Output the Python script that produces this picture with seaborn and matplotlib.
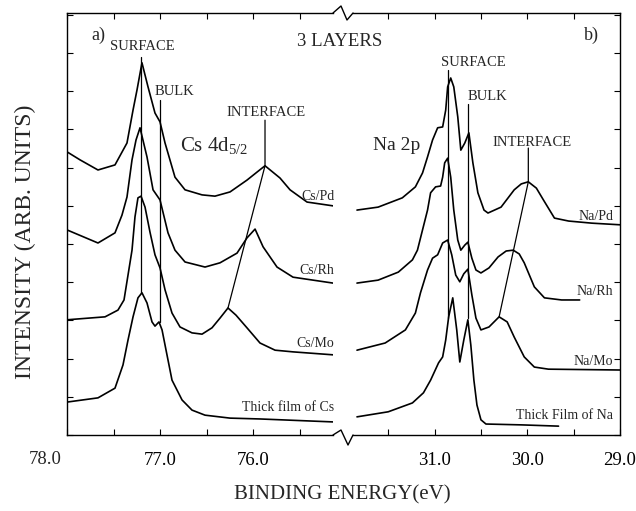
import matplotlib
matplotlib.use("Agg")
import matplotlib.pyplot as plt
import seaborn as sns
import pandas as pd
from matplotlib.ticker import FixedLocator, FuncFormatter, MultipleLocator
from matplotlib.lines import Line2D

# ---------------- data (binding energy in eV, intensity in arb. units) ----------------
cs_pd_energy = [78.0, 77.86, 77.667, 77.484, 77.355, 77.290, 77.247, 77.194, 77.129, 77.054,
                77.0, 76.946, 76.839, 76.731, 76.548, 76.409, 76.247, 76.065, 75.957, 75.871,
                75.710, 75.602, 75.419, 75.14]
cs_pd_int = [67.1, 65.2, 62.8, 64.0, 69.2, 77.0, 81.8, 88.2, 82.5, 76.3,
             74.2, 69.2, 61.1, 58.1, 56.9, 56.6, 57.6, 60.4, 62.3, 63.8,
             60.9, 58.1, 55.2, 54.3]

cs_rh_energy = [78.0, 77.667, 77.484, 77.409, 77.355, 77.301, 77.258, 77.215, 77.140, 77.075,
                77.0, 76.914, 76.839, 76.731, 76.516, 76.355, 76.172, 76.065, 75.978, 75.892,
                75.742, 75.570, 75.14]
cs_rh_int = [48.6, 45.5, 47.9, 52.1, 56.4, 65.2, 69.9, 72.8, 65.9, 58.1,
             55.7, 47.9, 43.8, 41.0, 39.8, 40.8, 43.1, 46.7, 48.8, 44.6,
             39.8, 37.4, 36.0]

cs_mo_energy = [78.0, 77.591, 77.452, 77.387, 77.344, 77.301, 77.269, 77.237, 77.204, 77.161,
                77.108, 77.054, 77.0, 76.946, 76.871, 76.785, 76.656, 76.548, 76.441, 76.355,
                76.269, 76.183, 76.065, 75.925, 75.763, 75.570, 75.14]
cs_mo_int = [27.3, 28.0, 29.6, 32.0, 37.9, 43.8, 51.7, 56.2, 56.6, 54.0,
             48.1, 42.7, 39.6, 34.4, 28.9, 25.6, 24.2, 23.9, 25.4, 27.7,
             30.1, 28.4, 25.4, 21.8, 20.1, 19.7, 19.0]

cs_thick_energy = [78.0, 77.667, 77.484, 77.398, 77.344, 77.290, 77.237, 77.194, 77.140, 77.086,
                   77.054, 77.011, 76.978, 76.935, 76.871, 76.763, 76.656, 76.516, 76.247, 75.925,
                   75.14]
cs_thick_int = [7.8, 8.8, 11.1, 16.6, 22.5, 28.0, 32.5, 33.7, 31.3, 26.8,
                25.8, 26.8, 24.9, 20.1, 13.0, 8.3, 5.9, 4.7, 4.0, 3.8,
                3.1]

na_pd_energy = [31.837, 31.609, 31.348, 31.207, 31.130, 31.076, 31.022, 30.967, 30.913, 30.880,
                30.859, 30.826, 30.793, 30.750, 30.717, 30.674, 30.630, 30.587, 30.533, 30.467,
                30.424, 30.283, 30.141, 30.065, 29.989, 29.902, 29.826, 29.707, 29.554, 29.304,
                28.99]
na_pd_int = [53.3, 54.0, 56.2, 58.8, 62.1, 65.9, 69.9, 72.8, 73.0, 77.0,
             82.5, 84.6, 82.5, 75.4, 67.5, 69.2, 71.6, 64.5, 57.4, 53.3,
             52.6, 54.0, 58.1, 59.5, 60.0, 58.5, 55.7, 51.4, 50.7, 50.2,
             49.8]

na_rh_energy = [31.837, 31.609, 31.391, 31.239, 31.185, 31.130, 31.076, 31.043, 30.989, 30.935,
                30.913, 30.891, 30.859, 30.826, 30.793, 30.750, 30.717, 30.674, 30.641, 30.598,
                30.554, 30.500, 30.413, 30.315, 30.228, 30.152, 30.087, 30.033, 29.924, 29.815,
                29.630, 29.435]
na_rh_int = [36.0, 36.7, 38.6, 41.5, 43.8, 48.6, 53.3, 57.4, 58.8, 59.0,
             61.1, 64.5, 65.6, 61.1, 53.3, 46.2, 43.8, 45.0, 45.7, 41.9,
             39.1, 38.4, 39.6, 42.2, 43.6, 43.8, 42.9, 40.8, 35.1, 32.5,
             32.0, 32.0]

na_mo_energy = [31.837, 31.533, 31.315, 31.207, 31.152, 31.076, 31.022, 30.967, 30.913, 30.859,
                30.815, 30.772, 30.728, 30.685, 30.641, 30.598, 30.554, 30.500, 30.413, 30.304,
                30.217, 30.141, 30.033, 29.924, 29.772, 28.99]
na_mo_int = [20.1, 21.8, 24.9, 28.9, 33.7, 39.1, 41.9, 42.7, 45.5, 46.2,
             42.7, 37.9, 36.3, 38.2, 39.3, 33.2, 27.7, 24.9, 25.6, 28.0,
             26.8, 23.2, 18.5, 16.1, 15.6, 15.4]

na_thick_energy = [31.837, 31.500, 31.239, 31.120, 31.043, 30.957, 30.913, 30.880, 30.848, 30.804,
                   30.761, 30.728, 30.685, 30.641, 30.609, 30.576, 30.543, 30.500, 30.446, 30.065,
                   29.663]
na_thick_int = [4.3, 5.5, 7.6, 10.0, 13.0, 17.1, 18.5, 22.5, 28.0, 32.5,
                24.9, 17.3, 22.5, 27.3, 21.3, 13.0, 7.1, 3.6, 2.6, 2.4,
                2.1]

cs_labels = ["Cs/Pd", "Cs/Rh", "Cs/Mo", "Thick film of Cs"]
na_labels = ["Na/Pd", "Na/Rh", "Na/Mo", "Thick Film of Na"]
cs_label_levels = [56.4, 38.9, 21.6, 6.6]
na_label_levels = [51.7, 33.9, 17.3, 4.7]

# component markers (binding energies, eV) and line extents (intensity)
cs_surface = [77.204, 89.6, 33.7]
cs_bulk = [77.0, 79.4, 26.8]
cs_interface_E = [75.871, 75.871, 76.269]
cs_interface_I = [74.6, 63.8, 30.1]
na_surface = [30.859, 86.5, 27.7]
na_bulk = [30.641, 78.4, 27.7]
na_interface_E = [29.989, 29.989, 30.304]
na_interface_I = [68.0, 60.0, 28.0]

left_ticks = [78.0, 77.5, 77.0, 76.5, 76.0, 75.5]
right_ticks = [31.5, 31.0, 30.5, 30.0, 29.5, 29.0]

# ---------------- figure ----------------
sns.set_theme(style="ticks")
plt.rcParams['font.family'] = ['Liberation Serif', 'DejaVu Serif']
plt.rcParams['mathtext.fontset'] = 'custom'
plt.rcParams['mathtext.rm'] = 'Liberation Serif'
plt.rcParams['mathtext.it'] = 'Liberation Serif:italic'
plt.rcParams['axes.linewidth'] = 1.0

W, H = 636, 511
fig = plt.figure(figsize=(W / 100, H / 100), dpi=100)
axL = fig.add_axes([67 / W, 1 - 435 / H, 266 / W, 422 / H])
axR = fig.add_axes([353 / W, 1 - 435 / H, 267 / W, 422 / H])

def long_df(names, energies, ints):
    rows = []
    for n, e, i in zip(names, energies, ints):
        rows.append(pd.DataFrame({"energy": e, "intensity": i, "sample": n}))
    return pd.concat(rows, ignore_index=True)

df_cs = long_df(cs_labels, [cs_pd_energy, cs_rh_energy, cs_mo_energy, cs_thick_energy],
                [cs_pd_int, cs_rh_int, cs_mo_int, cs_thick_int])
df_na = long_df(na_labels, [na_pd_energy, na_rh_energy, na_mo_energy, na_thick_energy],
                [na_pd_int, na_rh_int, na_mo_int, na_thick_int])

for ax, df in ((axL, df_cs), (axR, df_na)):
    sns.lineplot(data=df, x="energy", y="intensity", units="sample", estimator=None,
                 sort=False, color="black", lw=1.2, legend=False, ax=ax)
    ax.set_xlabel("")
    ax.set_ylabel("")
    ax.set_ylim(0, 100)
    ax.yaxis.set_major_locator(MultipleLocator(9.05))
    ax.tick_params(direction="in", length=4, width=0.8, top=True, bottom=True,
                   labelsize=13.5, pad=12, colors="black")
    for s in ax.spines.values():
        s.set_color("black")

axL.set_xlim(78.0, 75.14)
axR.set_xlim(31.88, 29.0)
axL.xaxis.set_major_locator(FixedLocator(left_ticks))
axR.xaxis.set_major_locator(FixedLocator(right_ticks))
fmt_left = FuncFormatter(lambda v, p: f"{v:.1f}" if abs(v - round(v)) < 1e-6 and v < 77.9 else "")
fmt_right = FuncFormatter(lambda v, p: f"{v:.1f}" if abs(v - round(v)) < 1e-6 else "")
axL.xaxis.set_major_formatter(fmt_left)
axR.xaxis.set_major_formatter(fmt_right)

axL.spines["right"].set_visible(False)
axL.tick_params(left=True, right=False, labelleft=False)
axR.spines["left"].set_visible(False)
axR.tick_params(left=False, right=True, labelleft=False, labelright=False)

# component lines
lk = dict(color="black", lw=0.9)
axL.plot([cs_surface[0]] * 2, cs_surface[1:], **lk)
axL.plot([cs_bulk[0]] * 2, cs_bulk[1:], **lk)
axL.plot(cs_interface_E, cs_interface_I, **lk)
axR.plot([na_surface[0]] * 2, na_surface[1:], **lk)
axR.plot([na_bulk[0]] * 2, na_bulk[1:], **lk)
axR.plot(na_interface_E, na_interface_I, **lk)

fs_small = 10.5
fs_lab = 10
axL.text(77.194, 92.0, "SURFACE", ha="center", va="center", fontsize=fs_small)
axL.text(76.849, 81.3, "BULK", ha="center", va="center", fontsize=fs_small)
axL.text(75.860, 76.5, "INTERFACE", ha="center", va="center", fontsize=fs_small)
axL.text(76.785, 68.7, r"Cs 4d$_{5/2}$", ha="left", va="center", fontsize=15)
axL.text(77.667, 94.6, "a)", ha="center", va="center", fontsize=13)
axR.text(30.587, 88.2, "SURFACE", ha="center", va="center", fontsize=fs_small)
axR.text(30.435, 80.1, "BULK", ha="center", va="center", fontsize=fs_small)
axR.text(29.946, 69.2, "INTERFACE", ha="center", va="center", fontsize=fs_small)
axR.text(31.663, 68.7, "Na 2p", ha="left", va="center", fontsize=14)
axR.text(29.304, 94.8, "b)", ha="center", va="center", fontsize=13)

for lab, lev in zip(cs_labels, cs_label_levels):
    axL.text(1.005, lev, lab, ha="right", va="center", fontsize=fs_lab,
             transform=axL.get_yaxis_transform())
for lab, lev in zip(na_labels, na_label_levels):
    axR.text(0.975, lev, lab, ha="right", va="center", fontsize=fs_lab,
             transform=axR.get_yaxis_transform())

# first left tick label sits left of its tick in the original
fig.text(45 / W, 1 - 460 / H, "78.0", ha="center", va="center", fontsize=13.5)

fig.text(340 / W, 1 - 42 / H, "3 LAYERS", ha="center", va="center", fontsize=13.5)
fig.text(342 / W, 1 - 495 / H, "BINDING ENERGY(eV)", ha="center", va="center", fontsize=15)
fig.text(25 / W, 1 - 242 / H, "INTENSITY (ARB. UNITS)", ha="center", va="center",
         rotation=90, fontsize=17)

# axis-break zigzags
def zig(pts):
    xs = [p[0] / W for p in pts]
    ys = [1 - p[1] / H for p in pts]
    fig.add_artist(Line2D(xs, ys, color="black", lw=1.0, transform=fig.transFigure))

zig([(333, 13), (341, 6), (347, 20), (353, 13)])
zig([(333, 435), (341, 430), (348, 445), (353, 435)])

fig.savefig("out.png", dpi=100, facecolor="white")
